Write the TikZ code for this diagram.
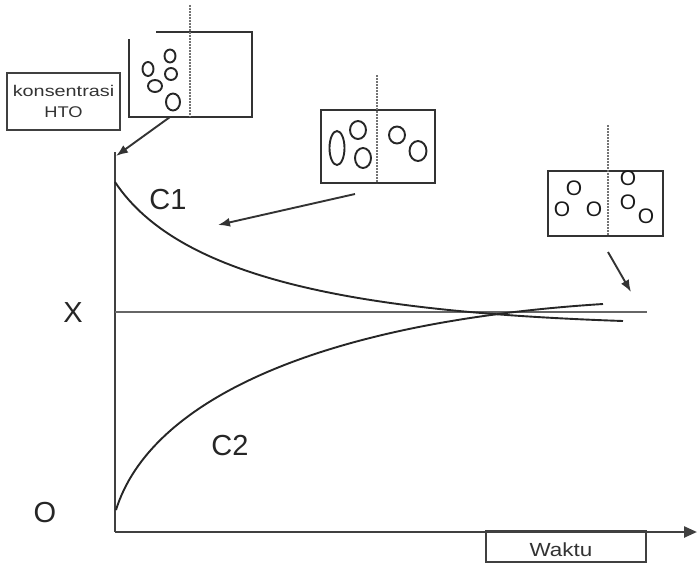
\documentclass[tikz,border=0pt]{standalone}
\usepackage{fontspec}
\setmainfont{Liberation Sans}
\usetikzlibrary{arrows.meta}
\begin{document}
\begin{tikzpicture}[x=1pt,y=-1pt,
  axisline/.style={line width=2.4pt, black!75},
  levelline/.style={line width=2.6pt, black!60},
  curve/.style={line width=1.9pt, black!85},
  wall/.style={line width=2.3pt, black!80},
  divider/.style={line width=2.2pt, black!55, dash pattern=on 1.6pt off 1.4pt},
  particle/.style={line width=1.9pt, black!85},
  pointer/.style={line width=1.9pt, black!80, -{Latex[length=12pt,width=9pt]}},
  biglabel/.style={font=\fontsize{29}{29}\selectfont, text=black!85, inner sep=0pt},
  molecule/.style={font=\fontsize{21}{21}\selectfont, text=black!90, inner sep=0pt},
  tag/.style={draw=black!75, line width=2.4pt, inner sep=0pt, text=black!80},
]
\useasboundingbox (0,0) rectangle (697,563);

% ---- axes ----
\coordinate (origin) at (115,532);
\coordinate (ytop) at (115,152);
\coordinate (xend) at (697,532);
\draw[axisline] (ytop) -- (origin);
\draw[axisline, -{Triangle[length=13pt,width=11pt]}] (origin) -- (xend);

\node[tag, minimum width=160pt, minimum height=31pt] (waktubox) at (566,546.5) {};
\node[font=\fontsize{19}{19}\selectfont, text=black!80, inner sep=0pt] (waktu) at (561,550) {\scalebox{1.18}[1]{Waktu}};

% ---- equilibrium level ----
\coordinate (xl) at (115,312);
\coordinate (xr) at (647,312);
\draw[levelline] (xl) -- (xr);

% ---- concentration curves ----
\coordinate (c1start) at (115,182);
\coordinate (c1end) at (623,321);
\coordinate (c2start) at (116,510);
\coordinate (c2end) at (603,304);
\draw[curve] (c1start) .. controls (180,280) and (360,312) .. (c1end);
\draw[curve] (c2start) .. controls (150,400) and (320,322) .. (c2end);

\node[biglabel] (lc1) at (168,200) {C1};
\node[biglabel] (lc2) at (230,446) {C2};
\node[biglabel] (lx) at (73,313) {X};
\node[biglabel] (lo) at (45,513) {O};

% ---- y-axis caption ----
\node[tag, minimum width=113pt, minimum height=57pt, align=center,
      font=\fontsize{15.5}{21}\selectfont] (kbox) at (63.5,101.5)
  {\scalebox{1.28}[1]{konsentrasi}\\\scalebox{1.18}[1]{HTO}};

% ---- vessel at start ----
\draw[wall] (129,39) -- (129,117) -- (252,117) -- (252,32) -- (156,32);
\draw[divider] (190,5) -- (190,117);
\draw[particle] (148,69) ellipse [x radius=5.5, y radius=7];
\draw[particle] (170,56) ellipse [x radius=5.5, y radius=6.5];
\draw[particle] (171,74) ellipse [x radius=6, y radius=6];
\draw[particle] (155,86) ellipse [x radius=7, y radius=6];
\draw[particle] (173,102) ellipse [x radius=7, y radius=8.5];
\coordinate (v1out) at (170,117);
\coordinate (v1tip) at (116,156);
\draw[pointer] (v1out) -- (v1tip);

% ---- vessel midway ----
\draw[wall] (321,110) rectangle (435,183);
\draw[divider] (377,75) -- (377,183);
\draw[particle] (337,148) ellipse [x radius=7.5, y radius=17];
\draw[particle] (358,130) ellipse [x radius=8, y radius=9];
\draw[particle] (363,158) ellipse [x radius=8, y radius=10];
\draw[particle] (397,135) ellipse [x radius=8, y radius=8.5];
\draw[particle] (418,151) ellipse [x radius=8.5, y radius=10];
\coordinate (v2out) at (355,194);
\coordinate (v2tip) at (218,225);
\draw[pointer] (v2out) -- (v2tip);

% ---- vessel at equilibrium ----
\draw[wall] (548,171) rectangle (663,236);
\draw[divider] (608,125) -- (608,236);
\node[molecule] (m1) at (574,188) {O};
\node[molecule] (m2) at (562,209) {O};
\node[molecule] (m3) at (594,209) {O};
\node[molecule] (m4) at (628,178) {O};
\node[molecule] (m5) at (628,202) {O};
\node[molecule] (m6) at (646,216) {O};
\coordinate (v3out) at (608,252);
\coordinate (v3tip) at (631,292);
\draw[pointer] (v3out) -- (v3tip);
\end{tikzpicture}
\end{document}
